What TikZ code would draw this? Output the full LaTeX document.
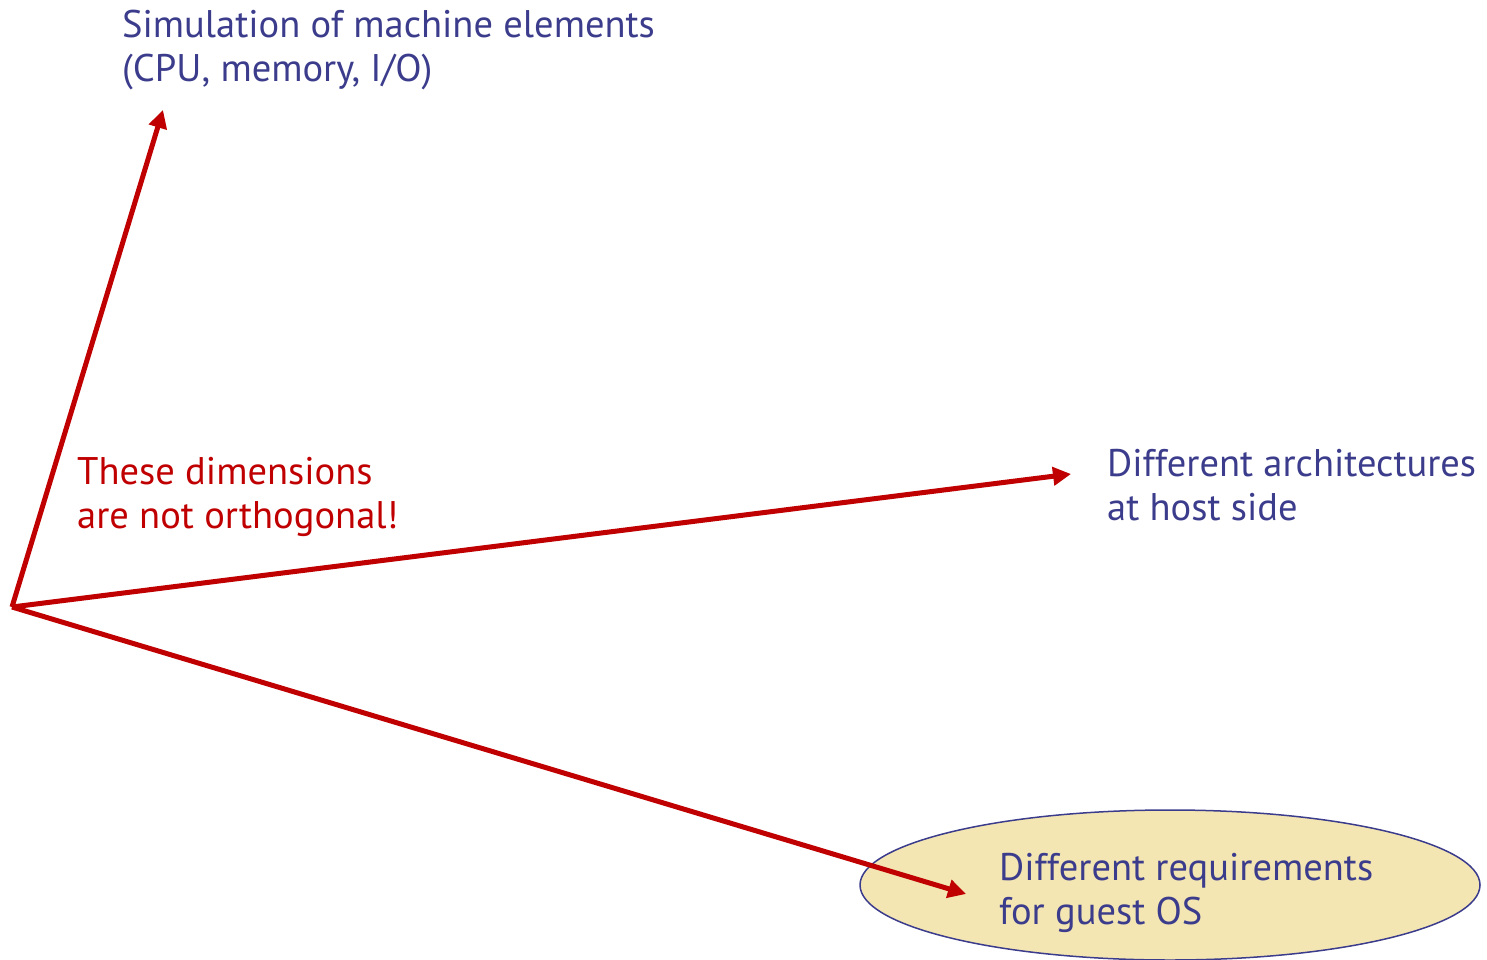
\documentclass[tikz,border=0pt]{standalone}
\usepackage{fontspec}
\setmainfont{PT Sans}
\usetikzlibrary{arrows.meta}
\definecolor{txtblue}{RGB}{60,60,140}
\definecolor{arrred}{RGB}{192,0,0}
\definecolor{ellfill}{RGB}{243,230,179}
\tikzset{
  lbl/.style={anchor=base west, inner sep=0pt, align=left, font=\fontsize{38.5}{44}\selectfont},
  bluelbl/.style={lbl, text=txtblue},
  redlbl/.style={lbl, text=arrred},
  axis/.style={draw=arrred, line width=5pt, -{Triangle[length=18pt,width=18pt]}},
}
\begin{document}
\begin{tikzpicture}[x=1pt,y=-1pt]
\useasboundingbox (0,0) rectangle (1487,960);
\draw[fill=ellfill, draw=txtblue, line width=1.5pt] (1170,885) ellipse [x radius=310, y radius=75];
\coordinate (o) at (12,607);
\coordinate (tipA) at (163,110);
\coordinate (tipB) at (1071,474);
\coordinate (tipC) at (966,894);
\node[bluelbl] (sim) at (122,82) {Simulation of machine elements\\(CPU, memory, I/O)};
\node[redlbl] (note) at (77,528) {These dimensions\\are not orthogonal!};
\node[bluelbl] (arch) at (1107,520) {Different architectures\\at host side};
\node[bluelbl] (req) at (999,924) {Different requirements\\for guest OS};
\draw[axis] (o) -- (tipA);
\draw[axis] (o) -- (tipB);
\draw[axis] (o) -- (tipC);
\end{tikzpicture}
\end{document}
